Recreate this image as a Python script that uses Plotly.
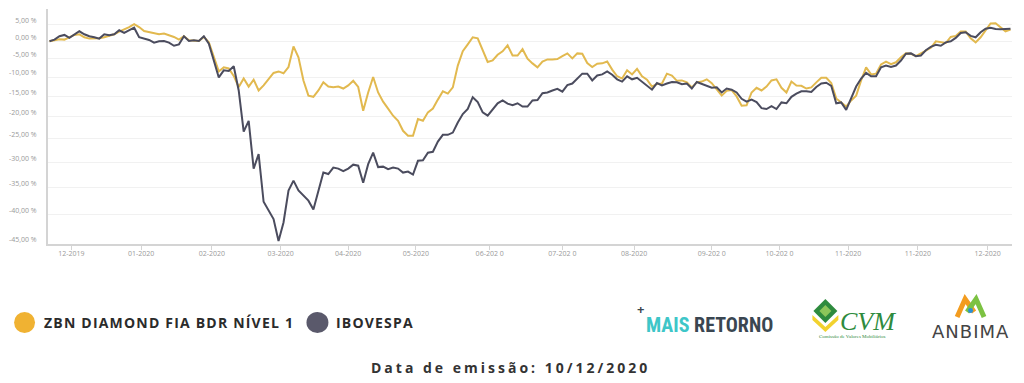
import math
import plotly.graph_objects as go

# ---------------- data (percent accumulated return) ----------------
fund_name = "ZBN DIAMOND FIA BDR NÍVEL 1"
index_name = "IBOVESPA"

fund_pct = [
    0.0, 0.4, 0.6, 0.5, 1.2, 1.9, 2.1, 1.2, 0.8, 0.8,
    0.9, 1.2, 1.6, 2.1, 2.9, 3.5, 4.3, 5.2, 4.3, 3.1,
    2.8, 2.4, 2.1, 2.3, 1.9, 1.3, 0.5, 1.5, 0.3, 0.3,
    0.1, 1.3, -0.3, -4.5, -8.5, -7.4, -7.7, -9.7, -12.6, -10.4,
    -12.5, -10.7, -13.5, -12.2, -10.4, -8.9, -8.5, -9.0, -7.3, -1.5,
    -4.6, -10.9, -14.8, -15.1, -13.5, -11.4, -12.5, -12.7, -12.5, -13.0,
    -12.2, -11.0, -12.6, -18.5, -14.0, -10.0, -14.0, -16.3, -18.0, -19.7,
    -20.9, -23.2, -24.3, -24.3, -20.5, -20.9, -18.9, -18.0, -15.8, -13.7,
    -14.3, -12.7, -6.9, -2.9, -0.9, 1.2, 0.9, -2.6, -5.9, -5.5,
    -3.9, -2.9, -1.2, -4.1, -4.1, -2.3, -5.0, -6.3, -7.4, -5.8,
    -5.2, -5.2, -5.1, -4.3, -3.5, -4.9, -3.5, -3.6, -6.2, -7.3,
    -6.4, -6.3, -5.8, -8.0, -9.8, -10.4, -8.2, -9.3, -7.8, -9.8,
    -10.7, -12.5, -11.8, -11.7, -9.1, -9.6, -11.0, -10.9, -11.4, -12.7,
    -11.4, -11.2, -10.6, -11.6, -13.3, -14.8, -13.6, -13.4, -15.0, -17.3,
    -17.2, -14.0, -12.8, -13.5, -12.5, -10.9, -10.6, -12.8, -14.0, -11.2,
    -12.2, -12.3, -13.0, -12.7, -11.4, -10.2, -10.2, -11.6, -15.5, -16.6,
    -17.5, -16.0, -14.8, -10.9, -7.4, -9.3, -9.1, -6.6, -5.8, -6.5,
    -6.0, -4.6, -3.5, -3.6, -4.3, -3.5, -2.6, -1.9, 0.0, -0.2,
    -0.5, 1.3, 1.6, 2.9, 2.9, 0.9, -0.3, 1.2, 3.3, 5.4,
    5.5, 4.1, 3.0, 3.5,
]

ibov_pct = [
    0.0, 0.5, 1.5, 1.9, 1.0, 2.1, 3.0, 2.1, 1.5, 1.2,
    0.8, 2.1, 1.8, 2.1, 3.3, 2.5, 3.3, 4.1, 1.2, 0.8,
    0.4, -0.4, 0.0, 0.1, -0.4, -1.3, -0.9, 1.5, 0.1, 0.3,
    0.1, 1.5, -0.7, -5.5, -10.1, -8.2, -8.4, -7.1, -13.5, -23.4,
    -20.9, -31.3, -28.3, -37.7, -39.3, -40.8, -44.5, -41.4, -35.6, -33.7,
    -35.6, -36.6, -37.5, -39.1, -35.6, -32.1, -32.4, -31.1, -31.3, -31.8,
    -31.3, -30.5, -30.7, -34.1, -30.4, -28.0, -31.0, -30.9, -31.4, -31.1,
    -31.3, -32.1, -31.9, -32.5, -29.7, -29.6, -28.0, -27.8, -25.6, -24.1,
    -24.1, -23.6, -21.3, -19.3, -18.1, -15.2, -16.4, -18.9, -19.7, -18.1,
    -16.7, -16.0, -16.8, -17.2, -16.7, -17.5, -17.5, -16.0, -15.9, -14.2,
    -14.0, -13.5, -13.1, -13.8, -12.1, -11.7, -10.4, -9.1, -9.1, -10.9,
    -9.6, -9.3, -8.5, -9.4, -10.6, -11.2, -9.8, -10.6, -10.2, -11.3,
    -12.2, -13.3, -11.6, -12.2, -11.7, -11.3, -11.4, -11.9, -11.7, -13.0,
    -11.3, -11.8, -12.1, -12.8, -12.7, -14.0, -13.0, -13.3, -14.0, -15.6,
    -16.3, -15.8, -16.4, -17.9, -18.1, -17.4, -18.1, -16.5, -16.7, -15.1,
    -14.3, -13.7, -13.7, -13.9, -12.6, -11.7, -11.5, -12.3, -16.7, -16.5,
    -18.3, -15.3, -12.5, -10.4, -8.9, -9.8, -9.8, -7.4, -6.9, -7.3,
    -6.9, -5.5, -3.6, -3.5, -4.3, -4.1, -2.6, -1.6, -1.0, -1.3,
    -0.3, 0.0, 1.0, 2.5, 2.7, 1.6, 1.2, 2.7, 3.8, 4.1,
    3.7, 3.6, 3.8, 3.8,
]

x_tick_labels = ["12-2019", "01-2020", "02-2020", "03-2020", "04-2020", "05-2020",
                 "06-202 0", "07-202 0", "08-2020", "09-202 0", "10-202 0",
                 "11-2020", "11-2020", "12-2020"]
x_tick_index = [4.4, 18.4, 32.6, 46.4, 60, 73.6, 88.4, 103, 117.4, 133, 146.6,
                160.4, 174.4, 188.4]

y_tick_pct = [10, 5, 0, -5, -10, -15, -20, -25, -30, -35, -40, -45]
y_tick_labels = ["", "5,00 %", "0,00 %", "-5,00 %", "-10,00 %", "-15,00 %", "-20,00 %",
                 "-25,00 %", "-30,00 %", "-35,00 %", "-40,00 %", "-45,00 %"]

issue_text = "Data de emissão: 10/12/2020"

# ---------------- figure ----------------
# the page body has an 8px margin, so the figure is drawn 8px in from the window corner
OX, OY = 8, 8
W, H = 1024 - OX, 383 - OY
L, R, T, B = 38, 12, 1, 139
PW, PH = W - L - R, H - T - B


def px(x):
    """window pixel x -> paper coordinate"""
    return (x - OX - L) / PW


def py(y):
    """window pixel y -> paper coordinate"""
    return (H - B - (y - OY)) / PH


GOLD = "#E2B94F"
DARK = "#4B4C5E"

n = len(fund_pct)
xs = list(range(n))

fig = go.Figure()
fig.add_trace(go.Scatter(x=xs, y=[1 + v / 100 for v in fund_pct], mode="lines",
                         line=dict(color=GOLD, width=2), name=fund_name,
                         showlegend=False))
fig.add_trace(go.Scatter(x=xs, y=[1 + v / 100 for v in ibov_pct], mode="lines",
                         line=dict(color=DARK, width=2), name=index_name,
                         showlegend=False))

fig.update_layout(
    width=W, height=H,
    margin=dict(l=L, r=R, t=T, b=B),
    paper_bgcolor="white", plot_bgcolor="white",
    font=dict(family="Open Sans", color="#999999"),
)
fig.update_xaxes(
    range=[-0.3, n - 1 + 0.3],
    tickmode="array", tickvals=x_tick_index, ticktext=x_tick_labels,
    tickfont=dict(size=7, color="#9a9a9a"),
    showgrid=False, zeroline=False,
    showline=True, linecolor="#d4d4d4", linewidth=2,
    ticks="outside", ticklen=4, tickcolor="#d4d4d4", tickwidth=1,
    ticklabelstandoff=-2,
)
fig.update_yaxes(
    type="log",
    range=[math.log10(0.55), math.log10(1.10)],
    tickmode="array",
    tickvals=[1 + v / 100 for v in y_tick_pct], ticktext=y_tick_labels,
    tickfont=dict(size=7, color="#9a9a9a"),
    showgrid=True, gridcolor="#f1f1f1", gridwidth=1,
    zeroline=False,
    showline=True, linecolor="#d4d4d4", linewidth=2,
    ticks="", ticklabelstandoff=8, ticklabelshift=-4,
)

shapes = []
annos = []

# legend
shapes.append(dict(type="circle", xref="paper", yref="paper",
                   x0=px(12), x1=px(33), y0=py(333), y1=py(312),
                   fillcolor="#F0B232", line=dict(width=0)))
shapes.append(dict(type="circle", xref="paper", yref="paper",
                   x0=px(305), x1=px(327), y0=py(333), y1=py(312),
                   fillcolor="#5A596B", line=dict(width=0)))
legend_font = dict(family="Open Sans", size=14, color="#2b2b2b", weight="bold")
annos.append(dict(x=px(40), y=py(322.5), xref="paper", yref="paper",
                  xanchor="left", yanchor="middle", showarrow=False,
                  text='<span style="letter-spacing:1.2px">' + fund_name + '</span>',
                  font=legend_font))
annos.append(dict(x=px(333), y=py(322.5), xref="paper", yref="paper",
                  xanchor="left", yanchor="middle", showarrow=False,
                  text='<span style="letter-spacing:1.2px">' + index_name + '</span>',
                  font=legend_font))

# issue date
annos.append(dict(x=px(509), y=py(368), xref="paper", yref="paper",
                  xanchor="center", yanchor="middle", showarrow=False,
                  text='<span style="letter-spacing:3px">' + issue_text + '</span>',
                  font=dict(family="Open Sans", size=14, color="#333333", weight="bold")))

# MAIS RETORNO logo
annos.append(dict(x=px(709), y=py(325), xref="paper", yref="paper",
                  xanchor="center", yanchor="middle", showarrow=False,
                  text='<span style="color:#3EC6C8">MAIS</span> RETORNO',
                  font=dict(family="Roboto Condensed, Roboto", size=20,
                            color="#3A4651", weight="bold")))
annos.append(dict(x=px(640), y=py(309), xref="paper", yref="paper",
                  xanchor="center", yanchor="middle", showarrow=False,
                  text="+", font=dict(family="Open Sans", size=13, color="#3A4651",
                                      weight="bold")))


def path(points, close=True):
    s = "M " + " L ".join(f"{px(a)},{py(b)}" for a, b in points)
    return s + (" Z" if close else "")


# CVM logo
shapes.append(dict(type="path", xref="paper", yref="paper",
                   path=path([(825, 299), (837, 311), (825, 323), (813, 311)]),
                   fillcolor="#2E8B3E", line=dict(width=0)))
shapes.append(dict(type="path", xref="paper", yref="paper",
                   path=path([(825, 305), (831, 311), (825, 317), (819, 311)]),
                   fillcolor="#8CC65A", line=dict(width=0)))
shapes.append(dict(type="path", xref="paper", yref="paper",
                   path=path([(812, 315), (825, 327), (838, 315), (838, 320),
                              (825, 332), (812, 320)]),
                   fillcolor="#F2D22E", line=dict(width=0)))
annos.append(dict(x=px(868), y=py(321), xref="paper", yref="paper",
                  xanchor="center", yanchor="middle", showarrow=False,
                  text="<i>CVM</i>",
                  font=dict(family="Liberation Serif", size=26, color="#2E8B3E")))
annos.append(dict(x=px(852), y=py(336), xref="paper", yref="paper",
                  xanchor="center", yanchor="middle", showarrow=False,
                  text="Comissão de Valores Mobiliários",
                  font=dict(family="Liberation Serif", size=5, color="#2E8B3E")))

# ANBIMA logo
shapes.append(dict(type="path", xref="paper", yref="paper",
                   path=path([(957, 317), (965, 299), (974, 312)], close=False),
                   line=dict(color="#F39C1F", width=5)))
shapes.append(dict(type="path", xref="paper", yref="paper",
                   path=path([(967, 312), (976, 299), (984, 317)], close=False),
                   line=dict(color="#7CC242", width=5)))
shapes.append(dict(type="circle", xref="paper", yref="paper",
                   x0=px(968), x1=px(973), y0=py(313), y1=py(308),
                   fillcolor="#2A8FD6", line=dict(width=0)))
annos.append(dict(x=px(970), y=py(331), xref="paper", yref="paper",
                  xanchor="center", yanchor="middle", showarrow=False,
                  text='<span style="letter-spacing:1px">ANBIMA</span>',
                  font=dict(family="DejaVu Sans", size=18, color="#444444")))

fig.update_layout(shapes=shapes, annotations=annos)
fig.write_html("out.html")
